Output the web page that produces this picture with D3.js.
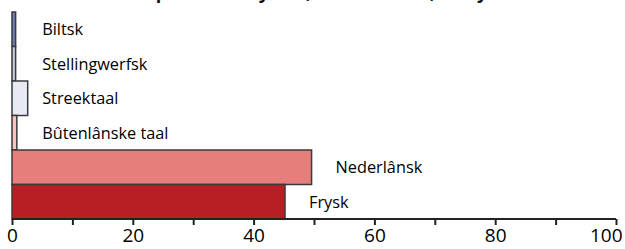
<!DOCTYPE html>
<html><head><meta charset="utf-8">
<script src="https://cdn.jsdelivr.net/npm/d3@7"></script>
<style>html,body{margin:0;padding:0;background:#fff;}svg{display:block;}</style>
</head><body>
<script>
const title = "Memmetaal sprekkers Fryslân, 2011 en 2018, alle ynwenners";
const categories = ["Biltsk","Stellingwerfsk","Streektaal","Bûtenlânske taal","Nederlânsk","Frysk"];
const values = [0.6, 0.6, 2.6, 0.8, 49.6, 45.2];
const colors = ["#6b7fb8","#c4cce3","#e7eaf4","#f7c2bf","#e67f7c","#b81f25"];
const tickValues = [0,10,20,30,40,50,60,70,80,90,100];
const tickLabels = ["0","","20","","40","","60","","80","","100"];

const W = 625, H = 249;
const svg = d3.select("body").append("svg").attr("width", W).attr("height", H);
const x = d3.scaleLinear().domain([0,100]).range([12,616]);
const y = d3.scaleBand().domain(categories).range([12,219]).padding(0);

svg.append("text").attr("x", 305).attr("y", -1).attr("text-anchor","middle")
  .attr("font-family","Open Sans").attr("font-weight","bold").attr("font-size",18)
  .attr("fill","#111").text(title);

svg.selectAll("rect.bar").data(categories).join("rect").attr("class","bar")
  .attr("x", x(0)).attr("y", d => y(d))
  .attr("width", (d,i) => x(values[i]) - x(0))
  .attr("height", y.bandwidth())
  .attr("fill", (d,i) => colors[i])
  .attr("stroke","#3a3a3a").attr("stroke-width",1.5);

svg.selectAll("text.lab").data(categories).join("text").attr("class","lab")
  .attr("x", (d,i) => values[i] > 10 ? x(values[i]) + 24 : x(5.0))
  .attr("y", d => y(d) + y.bandwidth()/2)
  .attr("dy","0.36em")
  .attr("font-family","Open Sans").attr("font-size",16.3).attr("fill","#000")
  .text(d => d);

const axis = d3.axisBottom(x).tickValues(tickValues).tickSize(6).tickPadding(4)
  .tickFormat((d,i) => tickLabels[i]);
const g = svg.append("g").attr("transform","translate(0,219)").call(axis);
g.select(".domain").attr("stroke","#222").attr("stroke-width",2).attr("d","M12,0H616");
g.selectAll(".tick line").attr("stroke","#222").attr("stroke-width",2);
g.selectAll(".tick text").attr("font-family","Open Sans").attr("font-size",19).attr("fill","#000")
  .attr("y", 10).attr("dy","0.71em");
g.selectAll(".tick text").filter((d) => d === 100).attr("text-anchor","end").attr("dx", 6);
</script>
</body></html>
